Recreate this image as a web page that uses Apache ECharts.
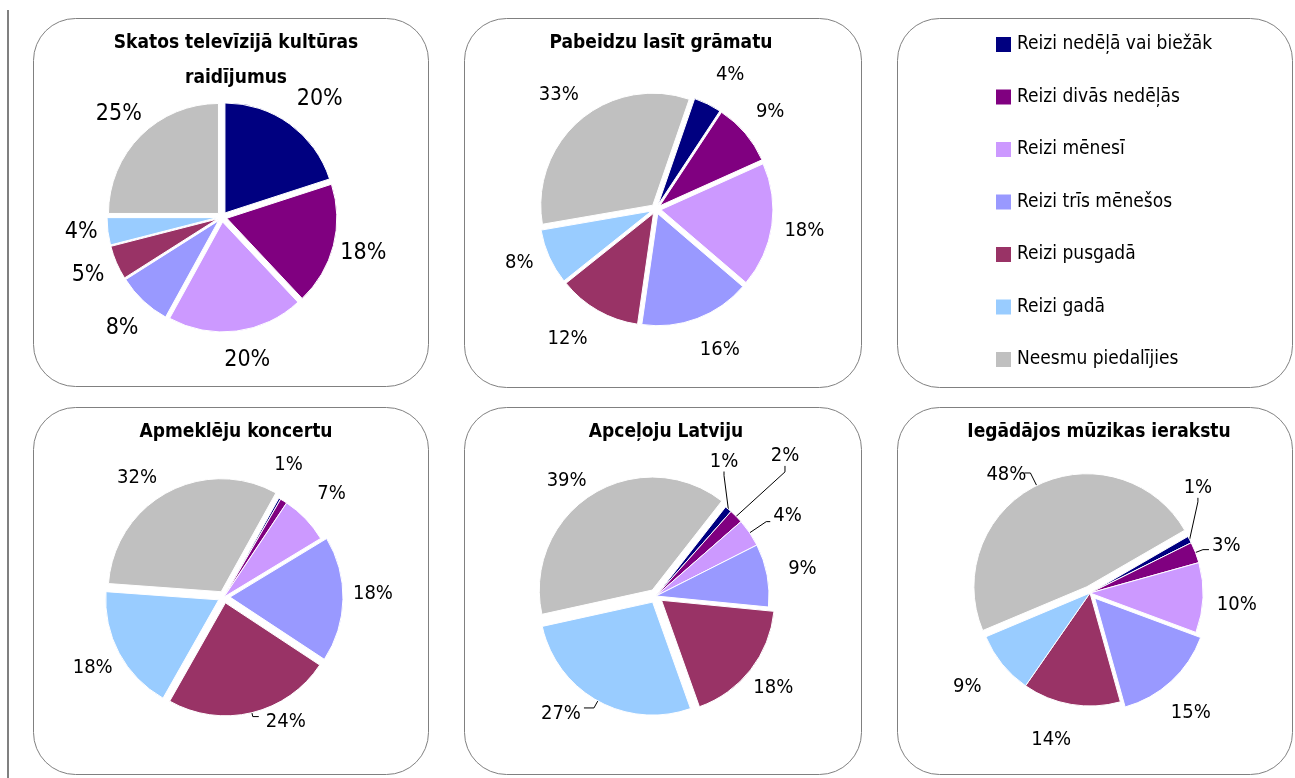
<!DOCTYPE html>
<html>
<head>
<meta charset="utf-8">
<script src="https://cdn.jsdelivr.net/npm/echarts@6/dist/echarts.min.js"></script>
<style>html,body{margin:0;padding:0;background:#fff;}#c{width:1295px;height:778px;}</style>
</head>
<body>
<div id="c"></div>
<script>
const categories = ['Reizi nedēļā vai biežāk', 'Reizi divās nedēļās', 'Reizi mēnesī', 'Reizi trīs mēnešos', 'Reizi pusgadā', 'Reizi gadā', 'Neesmu piedalījies'];
const colors = ['#000080', '#800080', '#CC99FF', '#9999FF', '#993366', '#99CCFF', '#C0C0C0'];
const titles = ['Skatos televīzijā kultūras\nraidījumus', 'Pabeidzu lasīt grāmatu', 'Apmeklēju koncertu', 'Apceļoju Latviju', 'Iegādājos mūzikas ierakstu'];
const tvValues = [20, 18, 20, 8, 5, 4, 25];
const bookValues = [4, 9, 18, 16, 12, 8, 33];
const concertValues = [0.3, 1, 7, 18, 24, 18, 32];
const travelValues = [1, 2, 4, 9, 18, 27, 39];
const musicValues = [1, 3, 10, 15, 14, 9, 48];
// which slices are pulled out of each pie
const tvExploded = [1, 1, 1, 1, 1, 1, 1];
const bookExploded = [1, 1, 1, 1, 1, 1, 1];
const concertExploded = [0, 0, 0, 1, 1, 1, 1];
const travelExploded = [0, 0, 0, 0, 1, 1, 1];
const musicExploded = [0, 0, 0, 1, 0, 0, 1];

const FONT = "'DejaVu Sans Condensed', 'DejaVu Sans', sans-serif";

// layout / style of each pie (positions, sizes, label nudges)
const pies = [
  {values: tvValues, exploded: tvExploded, center: [222, 217], r: 110, offset: 5, fs: 23, rc: 146, startAngle: 90, titleTop: 21,
   items: {0: {shift: [12, 0]}, 2: {shift: [7, -2]}, 3: {shift: [0, 5]}, 5: {shift: [4, -3]}}},
  {values: bookValues, exploded: bookExploded, center: [656, 209], r: 112, offset: 5, fs: 20, rc: 150, startAngle: 71, titleTop: 21,
   items: {0: {shift: [8, 0]}, 3: {shift: [11, 0]}, 4: {shift: [-14, 0]}, 5: {shift: [0, -8]}}},
  {values: concertValues, exploded: concertExploded, center: [224, 597], r: 113, offset: 6, fs: 20, rc: 149, startAngle: 61, titleTop: 410,
   items: {0: {hide: true}, 1: {shift: [-14, -6]}, 3: {shift: [0, -6]}, 6: {shift: [-16, 12]},
           4: {line: true, length: 4, length2: 6, shift: [4, 5]}}},
  {values: travelValues, exploded: travelExploded, center: [656, 596], r: 113, offset: 7, fs: 20, rc: 149, startAngle: 52, titleTop: 410,
   items: {0: {line: true, length: 10, length2: 4, move: [-32, -40]},
           1: {line: true, length: 12, length2: 6, move: [17, -52]},
           2: {line: true, length: 20, length2: 4, shift: [0, -6]},
           5: {line: true, length: 8, length2: 10, shift: [0, 6]},
           6: {shift: [-10, 11]}}},
  {values: musicValues, exploded: musicExploded, center: [1090, 593], r: 113, offset: 7, fs: 20, rc: 149, startAngle: 30, titleTop: 410,
   items: {0: {line: true, length: 8, length2: 4, move: [-20, -48]},
           1: {line: true, length: 8, length2: 6, shift: [0, -4]},
           2: {shift: [-2, 6]}, 3: {shift: [0, 10]}, 4: {shift: [-14, 0]}, 5: {shift: [-7, 0]},
           6: {line: true, length: 14, length2: 6, shift: [5, 2]}}}
];

const boxes = [[33, 18, 395, 368], [464, 18, 397, 369], [897, 18, 395, 369], [33, 407, 395, 367], [464, 407, 397, 367], [897, 407, 395, 367]];
const titleX = [231, 656, 231, 661, 1094];

const graphic = [{type: 'line', shape: {x1: 8, y1: 10, x2: 8, y2: 778}, style: {stroke: '#808080', lineWidth: 2}, z: 0}]
  .concat(boxes.map(b => ({type: 'rect', left: b[0], top: b[1], shape: {width: b[2], height: b[3], r: 42}, style: {fill: '#fff', stroke: '#808080', lineWidth: 1}, z: 0})));

function halfWidth(v, fs) {
  return (String(v).length * 0.572 + 0.86) * fs / 2;
}

const series = pies.map((p, i) => ({
  type: 'pie',
  name: titles[i],
  center: p.center,
  radius: [0, p.r],
  startAngle: p.startAngle,
  clockwise: true,
  selectedMode: 'multiple',
  selectedOffset: p.offset,
  avoidLabelOverlap: false,
  animation: false,
  emphasis: {disabled: true},
  itemStyle: {borderColor: '#fff', borderWidth: 1},
  select: {itemStyle: {borderColor: '#fff', borderWidth: 1}, label: {color: '#000'}},
  label: {show: true, position: 'outside', formatter: '{c}%', fontFamily: FONT, fontSize: p.fs, color: '#000'},
  labelLine: {show: false, length: 20, length2: 0, lineStyle: {color: '#000', width: 1}},
  labelLayout: function (params) {
    const it = p.items[params.dataIndex];
    if (!it) return {};
    if (it.move) {
      const lr = params.labelRect;
      return {x: lr.x + it.move[0], y: lr.y + it.move[1], align: 'left', verticalAlign: 'top'};
    }
    if (it.shift) return {dx: it.shift[0], dy: it.shift[1]};
    return {};
  },
  data: categories.map((c, j) => {
    const it = p.items[j] || {};
    const ex = !!p.exploded[j];
    const d = {name: c, value: p.values[j], selected: ex, itemStyle: {color: colors[j]}};
    if (it.hide) {
      d.label = {show: false};
      d.labelLine = {show: false};
    } else if (it.line) {
      d.labelLine = {show: true, length: it.length, length2: it.length2};
      d.label = {distanceToLabelLine: 3};
    } else {
      d.labelLine = {show: false, length: p.rc - p.r - (ex ? p.offset : 0), length2: 0};
      d.label = {distanceToLabelLine: -halfWidth(p.values[j], p.fs)};
    }
    return d;
  })
}));

const chart = echarts.init(document.getElementById('c'), null, {renderer: 'canvas'});
chart.setOption({
  animation: false,
  color: colors,
  graphic: graphic,
  title: pies.map((p, i) => ({
    text: titles[i], left: titleX[i], top: p.titleTop, textAlign: 'center',
    textStyle: {fontFamily: FONT, fontWeight: 'bold', fontSize: 19, color: '#000', lineHeight: 35}
  })),
  legend: {
    data: categories, orient: 'vertical', left: 994, top: 35, padding: 0, itemGap: 33.5, itemWidth: 17, itemHeight: 17, icon: 'rect',
    selectedMode: false,
    textStyle: {fontFamily: FONT, fontSize: 19, color: '#000'}
  },
  series: series
});
</script>
</body>
</html>
